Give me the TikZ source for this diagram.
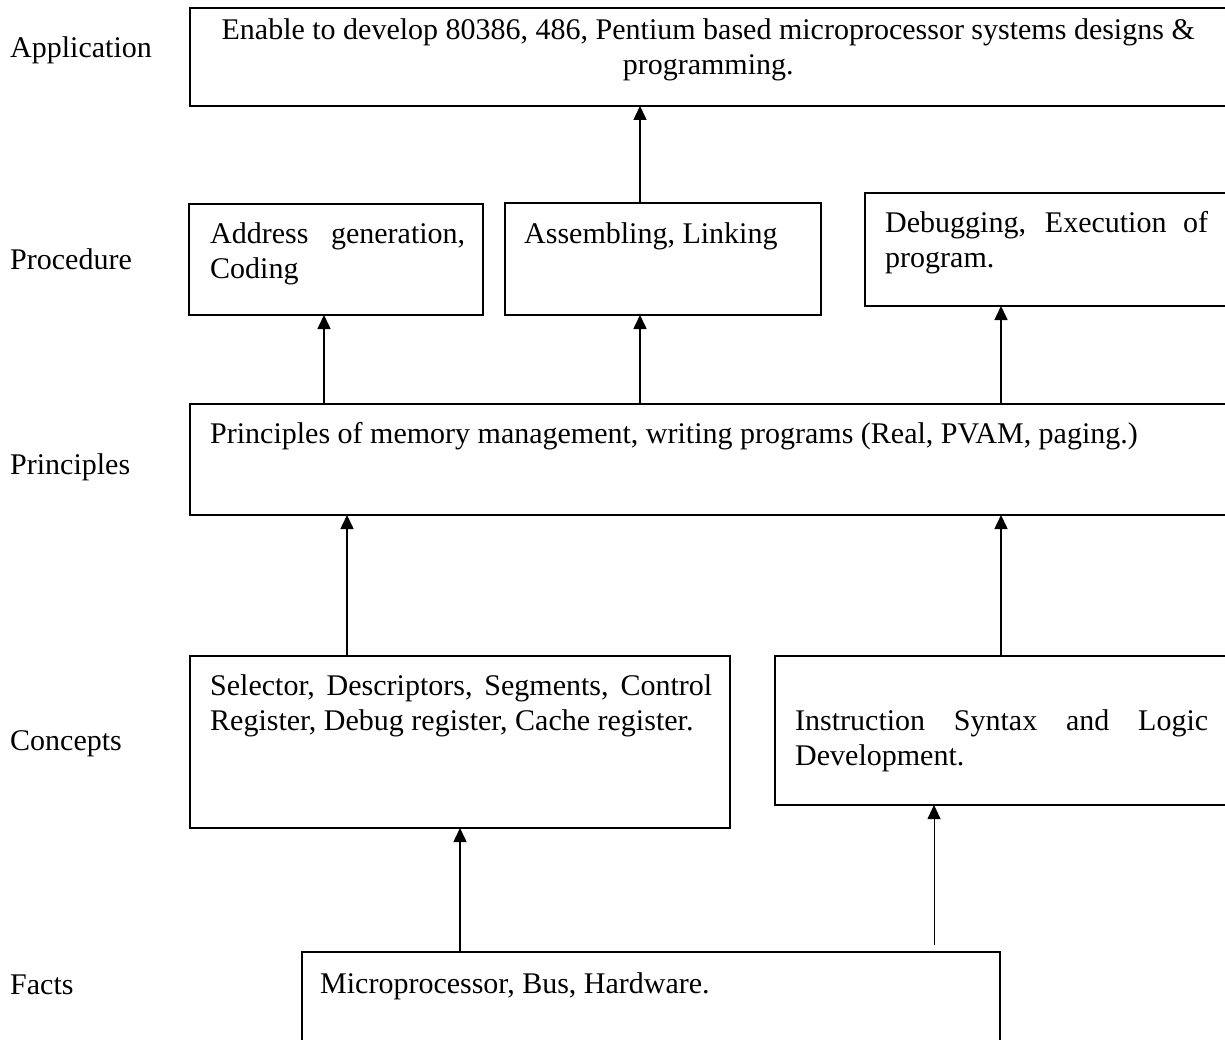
\documentclass[tikz,border=0pt]{standalone}
\usepackage{fontspec}
\setmainfont{Liberation Serif}
\usetikzlibrary{arrows.meta}
\newcommand{\lvfont}{\fontsize{30}{35.5}\selectfont}
\tikzset{
  lvbox/.style={draw=black, line width=1.6pt, rectangle, inner sep=0pt, outer sep=0pt, anchor=north west},
  lvtext/.style={font=\lvfont, inner sep=0pt, anchor=north west, align=justify},
  lvjust/.style={lvtext, execute at begin node={\tolerance=10000 \hyphenpenalty=10000 }},
  lvlevel/.style={font=\lvfont, inner sep=0pt, anchor=west},
  lvarrow/.style={line width=1.6pt, -{Triangle[length=14pt,width=13pt]}},
  lvthin/.style={line width=0.9pt, -{Triangle[length=14pt,width=13pt]}},
}
\begin{document}
\begin{tikzpicture}[x=1pt,y=-1pt]
\useasboundingbox (0,0) rectangle (1225,1040);
\clip (0,0) rectangle (1225,1040);
\node[lvbox, minimum width=1055pt, minimum height=98pt] (app) at (190,8) {};
\node[lvbox, minimum width=294pt, minimum height=111pt] (proca) at (189,204) {};
\node[lvbox, minimum width=316pt, minimum height=112pt] (procb) at (505,203) {};
\node[lvbox, minimum width=380pt, minimum height=113pt] (procc) at (865,193) {};
\node[lvbox, minimum width=1055pt, minimum height=111pt] (prin) at (190,404) {};
\node[lvbox, minimum width=540pt, minimum height=172pt] (conca) at (190,656) {};
\node[lvbox, minimum width=470pt, minimum height=149pt] (concb) at (775,656) {};
\node[lvbox, minimum width=698pt, minimum height=108pt] (facts) at (302,952) {};
\node[lvlevel] (lvapp) at (10,50) {Application};
\node[lvlevel] (lvproc) at (10,259) {Procedure};
\node[lvlevel] (lvprin) at (10,467) {Principles};
\node[lvlevel] (lvconc) at (10,744) {Concepts};
\node[lvlevel] (lvfact) at (10,985) {Facts};
\node[lvtext, text width=990pt, align=flush center] (apptxt) at (213,18) {Enable to develop 80386, 486, Pentium based microprocessor systems designs \&\\programming.};
\node[lvjust, text width=255pt] (procatxt) at (210,222) {Address generation,\linebreak Coding};
\node[lvtext, text width=280pt] (procbtxt) at (524,222) {Assembling, Linking};
\node[lvjust, text width=323pt] (procctxt) at (885,211) {Debugging, Execution of\linebreak program.};
\node[lvtext, text width=1000pt] (printxt) at (210,422) {Principles of memory management, writing programs (Real, PVAM, paging.)};
\node[lvjust, text width=502pt] (concatxt) at (210,674) {Selector, Descriptors, Segments, Control\linebreak Register, Debug register, Cache register.};
\node[lvjust, text width=413pt] (concbtxt) at (795,709) {Instruction Syntax and Logic\linebreak Development.};
\node[lvtext, text width=660pt] (factstxt) at (320,972) {Microprocessor, Bus, Hardware.};
\coordinate (thinfoot) at (934,945);
\draw[lvarrow] (procb.north -| 640,0) -- (app.south -| 640,0);
\draw[lvarrow] (prin.north -| 324,0) -- (proca.south -| 324,0);
\draw[lvarrow] (prin.north -| 640,0) -- (procb.south -| 640,0);
\draw[lvarrow] (prin.north -| 1001,0) -- (procc.south -| 1001,0);
\draw[lvarrow] (conca.north -| 347,0) -- (prin.south -| 347,0);
\draw[lvarrow] (concb.north -| 1001,0) -- (prin.south -| 1001,0);
\draw[lvarrow] (facts.north -| 460,0) -- (conca.south -| 460,0);
\draw[lvthin] (thinfoot) -- (concb.south -| thinfoot);
\end{tikzpicture}
\end{document}
